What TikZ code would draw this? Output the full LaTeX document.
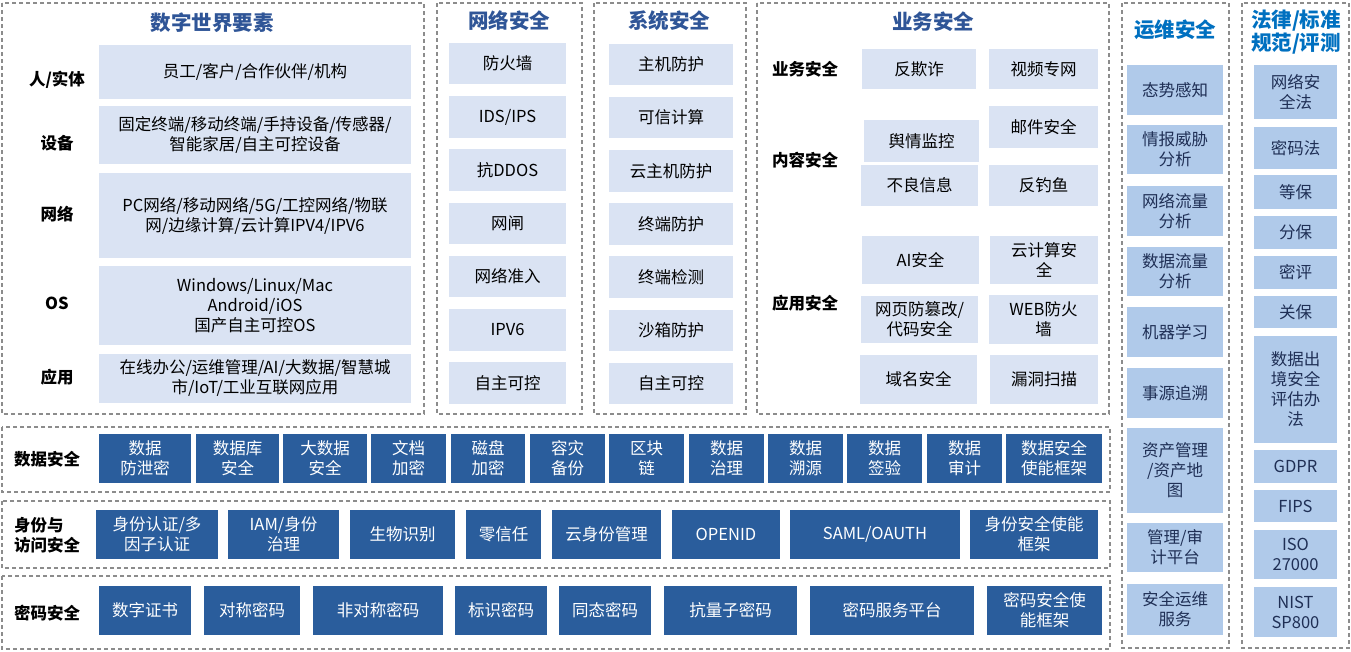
\documentclass[tikz,border=0pt]{standalone}
\usepackage{fontspec}
\setmainfont{Noto Sans CJK SC}
\usepackage{tikz}
\usetikzlibrary{positioning}
\definecolor{frame}{HTML}{8C8C8C}
\definecolor{pale}{HTML}{DAE3F3}
\definecolor{sky}{HTML}{B0CAEA}
\definecolor{deep}{HTML}{2A5D9C}
\definecolor{navy}{HTML}{1F2F55}
\definecolor{headA}{HTML}{2F5597}
\definecolor{headB}{HTML}{0070C0}
% box from corner (x1,y1) to corner (x2,y2), text follows
\newcommand{\cell}[6]{\node[#1,minimum width=#5-#3,minimum height=#6-#4] (#2) at ({(#3+#5)/2},{(#4+#6)/2})}

\begin{document}
\begin{tikzpicture}[x=1pt,y=-1pt,every node/.style={font=\fontsize{16.5}{20}\selectfont,align=center,inner sep=0pt}]
    \tikzstyle{panel}=[draw=frame,line width=1.2pt,dash pattern=on 4pt off 3pt];
    \tikzstyle{lt}=[fill=pale,text=black];
    \tikzstyle{sk}=[fill=sky,text=navy];
    \tikzstyle{dk}=[fill=deep,text=white];
    \tikzstyle{ttl}=[font=\fontsize{20.5}{23}\selectfont\bfseries,text=headA];
    \tikzstyle{ttlb}=[font=\fontsize{20.5}{23}\selectfont\bfseries,text=headB];
    \tikzstyle{lbl}=[font=\fontsize{16.5}{20}\selectfont\bfseries,text=black];
    \useasboundingbox (0,0) rectangle (1351,651);
    % --- dashed frames ---
    \draw[panel] (2,3) rectangle (424,414);
    \draw[panel] (437,3) rectangle (582,414);
    \draw[panel] (594,3) rectangle (746,414);
    \draw[panel] (757,3) rectangle (1109,414);
    \draw[panel] (1122,3) rectangle (1229,648);
    \draw[panel] (1242,3) rectangle (1349,648);
    \draw[panel] (2,427) rectangle (1110,492);
    \draw[panel] (2,501) rectangle (1110,568);
    \draw[panel] (2,576) rectangle (1110,649);
    % --- digital world ---
    \node[ttl] (tw) at (212,23) {数字世界要素};
    \node[lbl] (wl1) at (57,80)  {人/实体};
    \node[lbl] (wl2) at (57,143) {设备};
    \node[lbl] (wl3) at (57,214) {网络};
    \node[lbl] (wl4) at (57,303) {OS};
    \node[lbl] (wl5) at (57,377) {应用};
    \cell{lt}{w1}{99}{45}{411}{99}   {员工/客户/合作伙伴/机构};
    \cell{lt}{w2}{99}{106}{411}{164} {固定终端/移动终端/手持设备/传感器/\\智能家居/自主可控设备};
    \cell{lt}{w3}{99}{173}{411}{258} {PC网络/移动网络/5G/工控网络/物联\\网/边缘计算/云计算IPV4/IPV6};
    \cell{lt}{w4}{99}{266}{411}{345} {Windows/Linux/Mac\\Android/iOS\\国产自主可控OS};
    \cell{lt}{w5}{99}{354}{411}{403} {在线办公/运维管理/AI/大数据/智慧城\\市/IoT/工业互联网应用};
    % --- network security ---
    \node[ttl] (tn) at (509,21) {网络安全};
    \cell{lt}{n1}{449}{43}{566}{84}   {防火墙};
    \cell{lt}{n2}{449}{96}{566}{138}  {IDS/IPS};
    \cell{lt}{n3}{449}{149}{566}{191} {抗DDOS};
    \cell{lt}{n4}{449}{203}{566}{244} {网闸};
    \cell{lt}{n5}{449}{256}{566}{297} {网络准入};
    \cell{lt}{n6}{449}{309}{566}{351} {IPV6};
    \cell{lt}{n7}{449}{362}{566}{404} {自主可控};
    % --- system security ---
    \node[ttl] (ts) at (669,21) {系统安全};
    \cell{lt}{s1}{609}{44}{733}{85}   {主机防护};
    \cell{lt}{s2}{609}{97}{733}{138}  {可信计算};
    \cell{lt}{s3}{609}{150}{733}{192} {云主机防护};
    \cell{lt}{s4}{609}{203}{733}{245} {终端防护};
    \cell{lt}{s5}{609}{256}{733}{298} {终端检测};
    \cell{lt}{s6}{609}{310}{733}{351} {沙箱防护};
    \cell{lt}{s7}{609}{363}{733}{404} {自主可控};
    % --- business security ---
    \node[ttl] (tb) at (933,22) {业务安全};
    \node[lbl] (bl1) at (805,69)  {业务安全};
    \node[lbl] (bl2) at (805,160) {内容安全};
    \node[lbl] (bl3) at (805,303) {应用安全};
    \cell{lt}{b1}{862}{49}{976}{89}    {反欺诈};
    \cell{lt}{b2}{989}{49}{1098}{89}   {视频专网};
    \cell{lt}{b3}{864}{120}{979}{162}  {舆情监控};
    \cell{lt}{b4}{989}{106}{1098}{148} {邮件安全};
    \cell{lt}{b5}{861}{165}{978}{206}  {不良信息};
    \cell{lt}{b6}{989}{165}{1098}{206} {反钓鱼};
    \cell{lt}{b7}{862}{236}{979}{284}  {AI安全};
    \cell{lt}{b8}{990}{236}{1098}{284} {云计算安\\全};
    \cell{lt}{b9}{861}{296}{978}{343}  {网页防篡改/\\代码安全};
    \cell{lt}{b10}{989}{295}{1098}{344} {WEB防火\\墙};
    \cell{lt}{b11}{860}{355}{977}{404}  {域名安全};
    \cell{lt}{b12}{990}{355}{1098}{404} {漏洞扫描};
    % --- operations ---
    \node[ttlb] (to) at (1175,30) {运维安全};
    \cell{sk}{o1}{1127}{65}{1223}{115}  {态势感知};
    \cell{sk}{o2}{1127}{125}{1223}{174} {情报威胁\\分析};
    \cell{sk}{o3}{1127}{186}{1223}{236} {网络流量\\分析};
    \cell{sk}{o4}{1127}{247}{1223}{296} {数据流量\\分析};
    \cell{sk}{o5}{1127}{307}{1223}{357} {机器学习};
    \cell{sk}{o6}{1127}{368}{1223}{418} {事源追溯};
    \cell{sk}{o7}{1127}{428}{1223}{513} {资产管理\\/资产地\\图};
    \cell{sk}{o8}{1127}{523}{1223}{572} {管理/审\\计平台};
    \cell{sk}{o9}{1127}{584}{1223}{635} {安全运维\\服务};
    % --- law / standards ---
    \node[ttlb] (tl) at (1296,32) {法律/标准\\规范/评测};
    \cell{sk}{l1}{1254}{65}{1337}{119}  {网络安\\全法};
    \cell{sk}{l2}{1254}{127}{1337}{169} {密码法};
    \cell{sk}{l3}{1254}{175}{1337}{209} {等保};
    \cell{sk}{l4}{1254}{216}{1337}{249} {分保};
    \cell{sk}{l5}{1254}{256}{1337}{289} {密评};
    \cell{sk}{l6}{1254}{296}{1337}{328} {关保};
    \cell{sk}{l7}{1254}{336}{1337}{443} {数据出\\境安全\\评估办\\法};
    \cell{sk}{l8}{1254}{450}{1337}{483} {GDPR};
    \cell{sk}{l9}{1254}{490}{1337}{522} {FIPS};
    \cell{sk}{l10}{1254}{530}{1337}{579} {ISO\\27000};
    \cell{sk}{l11}{1254}{587}{1337}{637} {NIST\\SP800};
    % --- data security row ---
    \node[lbl] (dl) at (47,459) {数据安全};
    \cell{dk}{d1}{99}{434}{191}{483}    {数据\\防泄密};
    \cell{dk}{d2}{196}{434}{279}{483}   {数据库\\安全};
    \cell{dk}{d3}{283}{434}{367}{483}   {大数据\\安全};
    \cell{dk}{d4}{371}{434}{446}{483}   {文档\\加密};
    \cell{dk}{d5}{451}{434}{525}{483}   {磁盘\\加密};
    \cell{dk}{d6}{530}{434}{605}{483}   {容灾\\备份};
    \cell{dk}{d7}{609}{434}{684}{483}   {区块\\链};
    \cell{dk}{d8}{689}{434}{764}{483}   {数据\\治理};
    \cell{dk}{d9}{768}{434}{843}{483}   {数据\\溯源};
    \cell{dk}{d10}{847}{434}{922}{483}  {数据\\签验};
    \cell{dk}{d11}{927}{434}{1002}{483} {数据\\审计};
    \cell{dk}{d12}{1006}{434}{1102}{483} {数据安全\\使能框架};
    % --- identity row ---
    \node[lbl,anchor=west,align=left] (il) at (14,535) {身份与\\访问安全};
    \cell{dk}{i1}{96}{510}{218}{559}   {身份认证/多\\因子认证};
    \cell{dk}{i2}{228}{510}{339}{559}  {IAM/身份\\治理};
    \cell{dk}{i3}{350}{510}{455}{559}  {生物识别};
    \cell{dk}{i4}{466}{510}{541}{559}  {零信任};
    \cell{dk}{i5}{552}{510}{661}{559}  {云身份管理};
    \cell{dk}{i6}{672}{510}{780}{559}  {OPENID};
    \cell{dk}{i7}{790}{510}{960}{559}  {SAML/OAUTH};
    \cell{dk}{i8}{970}{510}{1098}{559} {身份安全使能\\框架};
    % --- crypto row ---
    \node[lbl] (cl) at (47,613) {密码安全};
    \cell{dk}{c1}{99}{586}{191}{635}   {数字证书};
    \cell{dk}{c2}{204}{586}{300}{635}  {对称密码};
    \cell{dk}{c3}{313}{586}{443}{635}  {非对称密码};
    \cell{dk}{c4}{455}{586}{547}{635}  {标识密码};
    \cell{dk}{c5}{559}{586}{651}{635}  {同态密码};
    \cell{dk}{c6}{664}{586}{797}{635}  {抗量子密码};
    \cell{dk}{c7}{810}{586}{974}{635}  {密码服务平台};
    \cell{dk}{c8}{987}{586}{1102}{635} {密码安全使\\能框架};
\end{tikzpicture}
\end{document}
